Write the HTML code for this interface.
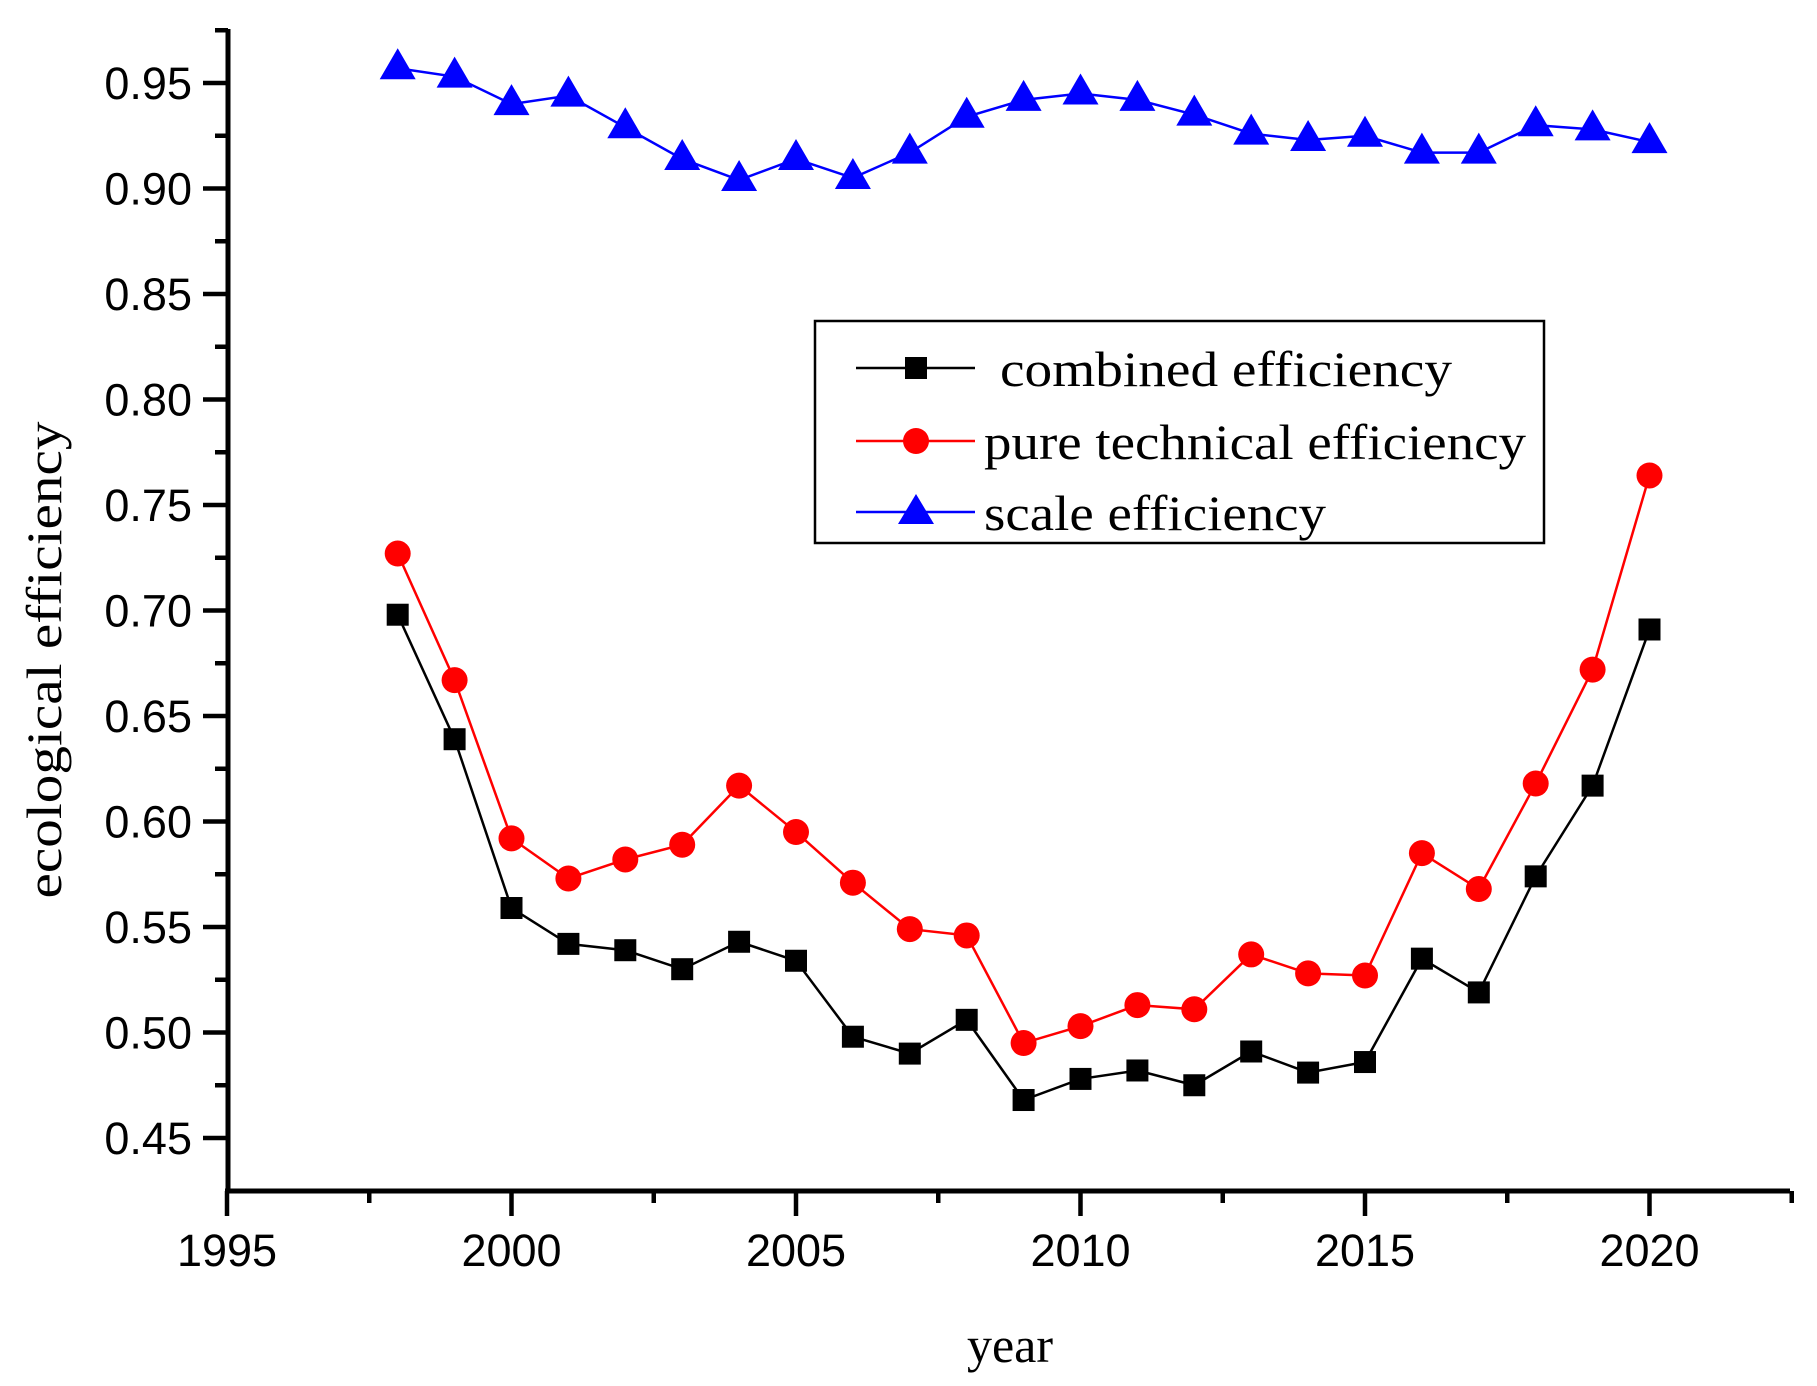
<!DOCTYPE html>
<html><head><meta charset="utf-8"><style>
html,body{margin:0;padding:0;background:#fff;}
svg{display:block;}
</style></head><body>
<svg id="c" width="1817" height="1386" xmlns="http://www.w3.org/2000/svg" font-family="Liberation Sans, Arial, sans-serif">
<rect width="1817" height="1386" fill="#fff"/>
<g id="axes" stroke="#000" stroke-width="5" fill="none">
<line x1="228" y1="29" x2="228" y2="1193"/>
<line x1="225" y1="1191" x2="1790" y2="1191"/>
</g>
<g id="ticks" stroke="#000" stroke-width="4.5"></g>
<g id="labels" font-size="45" fill="#000"></g>
<g id="series"></g>
<rect x="815" y="321" width="729" height="222" fill="none" stroke="#000" stroke-width="2.5"/>
<g font-family="Liberation Serif, Times New Roman, serif" font-size="50" fill="#000">
<line x1="856" y1="368" x2="975" y2="368" stroke="#000" stroke-width="2.5"/>
<rect x="905" y="357" width="22" height="22" fill="#000"/>
<text x="1000" y="386" textLength="452" lengthAdjust="spacingAndGlyphs">combined efficiency</text>
<line x1="856" y1="441" x2="975" y2="441" stroke="#f00" stroke-width="2.5"/>
<circle cx="916" cy="441" r="13" fill="#f00"/>
<text x="984" y="459" textLength="542" lengthAdjust="spacingAndGlyphs">pure technical efficiency</text>
<line x1="856" y1="512" x2="975" y2="512" stroke="#00f" stroke-width="2.5"/>
<polygon points="916,494 934,524 898,524" fill="#00f"/>
<text x="984" y="530" textLength="342" lengthAdjust="spacingAndGlyphs">scale efficiency</text>
</g>
<text x="0" y="0" transform="translate(61,660) rotate(-90)" text-anchor="middle" font-family="Liberation Serif, Times New Roman, serif" font-size="50" textLength="477" lengthAdjust="spacingAndGlyphs">ecological efficiency</text>
<text x="1010" y="1362" text-anchor="middle" font-family="Liberation Serif, Times New Roman, serif" font-size="50">year</text>
</svg>
<script>
const NS="http://www.w3.org/2000/svg";
function el(t,a,p){const e=document.createElementNS(NS,t);for(const k in a)e.setAttribute(k,a[k]);p.appendChild(e);return e;}
const Y=v=>83+(0.95-v)/0.05*105.5, X=y=>227+(y-1995)*56.9;
const tk=document.getElementById('ticks'),lb=document.getElementById('labels'),sr=document.getElementById('series');
for(let i=0;i<=21;i++){const v=0.45+i*0.025;const y=Y(v);const maj=i%2==0;
 el('line',{x1:maj?203:215,y1:y,x2:228,y2:y},tk);
 if(maj){const t=el('text',{x:192,y:y+16,'text-anchor':'end'},lb);t.textContent=v.toFixed(2);}}
for(let i=0;i<=11;i++){const yr=1995+i*2.5;const x=X(yr);const maj=i%2==0;
 el('line',{x1:x,y1:1191,x2:x,y2:maj?1216:1203},tk);
 if(maj){const t=el('text',{x:x,y:1266,'text-anchor':'middle'},lb);t.textContent=yr;}}
const B=[.957,.953,.940,.944,.929,.914,.904,.914,.905,.917,.934,.942,.945,.942,.935,.926,.923,.925,.917,.917,.930,.928,.922];
const R=[.727,.667,.592,.573,.582,.589,.617,.595,.571,.549,.546,.495,.503,.513,.511,.537,.528,.527,.585,.568,.618,.672,.764];
const K=[.698,.639,.559,.542,.539,.530,.543,.534,.498,.490,.506,.468,.478,.482,.475,.491,.481,.486,.535,.519,.574,.617,.691];
function line(d,c){el('polyline',{points:d.map((v,i)=>X(1998+i)+','+Y(v)).join(' '),fill:'none',stroke:c,'stroke-width':2.5},sr);}
line(K,'#000');line(R,'#f00');line(B,'#00f');
K.forEach((v,i)=>el('rect',{x:X(1998+i)-11,y:Y(v)-11,width:22,height:22,fill:'#000'},sr));
R.forEach((v,i)=>el('circle',{cx:X(1998+i),cy:Y(v),r:13,fill:'#f00'},sr));
B.forEach((v,i)=>{const x=X(1998+i),y=Y(v);el('polygon',{points:`${x},${y-20} ${x+18},${y+11} ${x-18},${y+11}`,fill:'#00f'},sr);});
</script>
</body></html>
